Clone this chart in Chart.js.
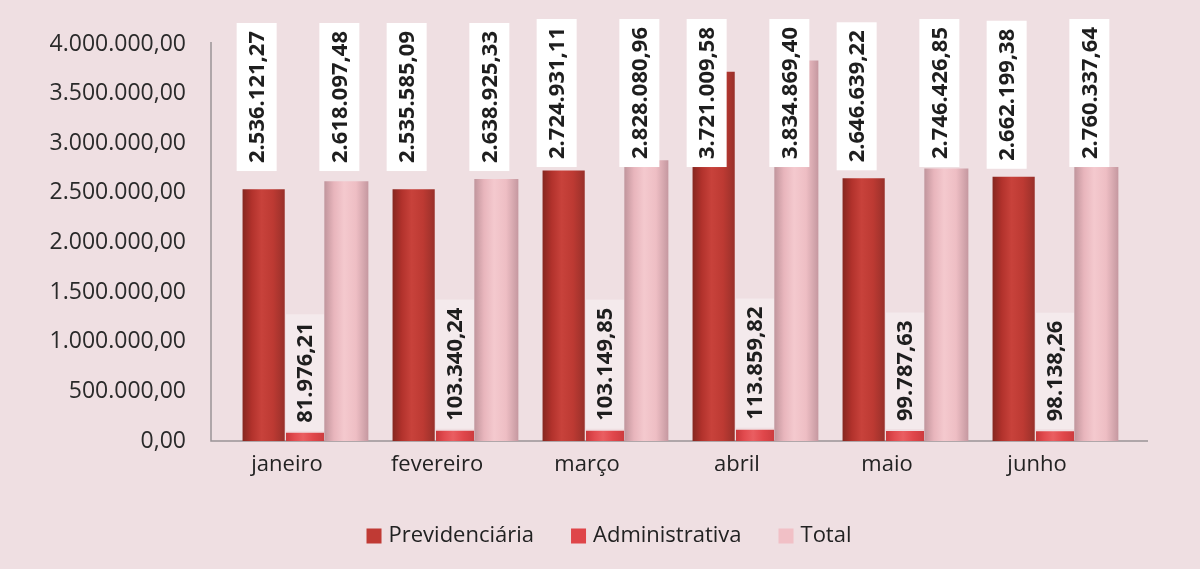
<!DOCTYPE html>
<html><head><meta charset="utf-8">
<script src="https://cdn.jsdelivr.net/npm/chart.js@4.4.1/dist/chart.umd.min.js"></script>
<style>
html,body{margin:0;padding:0;background:#ffffff;overflow:hidden;}
#wrap{position:absolute;left:0;top:0;width:1200px;height:569px;background:#efdfe2;}
canvas{display:block;}
</style></head><body>
<div id="wrap"><canvas id="c" width="1200" height="569"></canvas></div>
<script>
const categories = ['janeiro', 'fevereiro', 'março', 'abril', 'maio', 'junho'];
const seriesNames = ['Previdenciária', 'Administrativa', 'Total'];
const previdenciaria = [2536121.27, 2535585.09, 2724931.11, 3721009.58, 2646639.22, 2662199.38];
const administrativa = [81976.21, 103340.24, 103149.85, 113859.82, 99787.63, 98138.26];
const total = [2618097.48, 2638925.33, 2828080.96, 3834869.40, 2746426.85, 2760337.64];
const yMin = 0, yMax = 4000000, yStep = 500000;

const FONT = '"Open Sans", "DejaVu Sans", sans-serif';
const DEPTH = 18;          // 3D look: bars drawn shifted right of the category
const CAT_PCT = 0.827;
const BAR_PCTS = [1.02, 0.92, 1.065];

function fmtBR(v) {
  const neg = v < 0; v = Math.abs(v);
  const fixed = v.toFixed(2);
  let [ip, dp] = fixed.split('.');
  ip = ip.replace(/\B(?=(\d{3})+(?!\d))/g, '.');
  return (neg ? '-' : '') + ip + ',' + dp;
}

const palettes = [
  {flat: '#c03a34', stops: ['#86261f', '#b2322c', '#c8423b', '#bd3a33', '#98302a']},
  {flat: '#df4549', stops: ['#c9383b', '#e24b4f', '#ea5e61', '#e0474b', '#cc3c3f']},
  {flat: '#f1c0c6', stops: ['#c0959c', '#e8b5bc', '#f4c9ce', '#eebec4', '#c598a0']}
];

function barColor(ctx) {
  const p = palettes[ctx.datasetIndex];
  if (ctx.type !== 'data') return p.flat;
  const chart = ctx.chart;
  const xs = chart.scales.x;
  if (!chart.chartArea || !xs) return p.flat;
  const c = xs.getPixelForValue(ctx.dataIndex);
  const catW = xs.width / categories.length;
  const gw = catW * CAT_PCT, sw = gw / 3;
  const sc = c - gw / 2 + (ctx.datasetIndex + 0.5) * sw;
  const bw = sw * BAR_PCTS[ctx.datasetIndex];
  const left = sc - bw / 2;
  const g = chart.ctx.createLinearGradient(left, 0, left + bw, 0);
  const pos = [0, 0.22, 0.45, 0.72, 1];
  p.stops.forEach((s, i) => g.addColorStop(pos[i], s));
  return g;
}

const shiftPlugin = {
  id: 'shift',
  beforeDatasetsDraw(chart) {
    const ctx = chart.ctx; ctx.save(); ctx.translate(DEPTH, 0);
  },
  afterDatasetsDraw(chart) { chart.ctx.restore(); }
};

const axisPlugin = {
  id: 'axisLines',
  beforeDatasetsDraw(chart) {
    const {ctx, chartArea: a} = chart;
    ctx.save();
    ctx.strokeStyle = '#9a9497';
    ctx.lineWidth = 1.5;
    ctx.beginPath();
    ctx.moveTo(a.left - 1, a.top - 2);
    ctx.lineTo(a.left - 1, a.bottom);
    ctx.lineTo(a.right + DEPTH * 2, a.bottom);
    ctx.stroke();
    ctx.restore();
  }
};

const labelPlugin = {
  id: 'vlabels',
  afterDatasetsDraw(chart) {
    const ctx = chart.ctx, a = chart.chartArea;
    ctx.save();
    ctx.font = 'bold 22px ' + FONT;
    chart.data.datasets.forEach((ds, di) => {
      const meta = chart.getDatasetMeta(di);
      meta.data.forEach((bar, i) => {
        const txt = fmtBR(ds.data[i]);
        const w = ctx.measureText(txt).width;
        const L = w + 16;
        let cx, bw, top;
        if (di === 1) {
          cx = bar.x + DEPTH; bw = bar.width;
          top = bar.y - 2 - L;
          ctx.fillStyle = 'rgba(255,255,255,0.35)';
        } else {
          cx = bar.x + DEPTH - 7; bw = 40;
          top = Math.min(Math.max(bar.y - 8 - L, a.top - 25), a.top - 21);
          ctx.fillStyle = '#ffffff';
        }
        ctx.fillRect(cx - bw / 2, top, bw, L);
        ctx.save();
        ctx.translate(cx + 1, top + L / 2);
        ctx.rotate(-Math.PI / 2);
        ctx.fillStyle = '#1e1e1e';
        ctx.textAlign = 'center';
        ctx.textBaseline = 'middle';
        ctx.fillText(txt, 0, 0);
        ctx.restore();
      });
    });
    ctx.restore();
  }
};

const legendPlugin = {
  id: 'customLegend',
  afterDraw(chart) {
    const ctx = chart.ctx;
    ctx.save();
    ctx.font = '22px ' + FONT;
    const box = 15, gap = 7, spacing = 37;
    const widths = seriesNames.map(n => ctx.measureText(n).width);
    const totalW = widths.reduce((s, w) => s + box + gap + w, 0) + spacing * (seriesNames.length - 1);
    let x = chart.width / 2 + 9 - totalW / 2;
    const cy = 536;
    seriesNames.forEach((n, i) => {
      ctx.fillStyle = palettes[i].flat;
      ctx.fillRect(x, cy - box / 2, box, box);
      x += box + gap;
      ctx.fillStyle = '#222';
      ctx.textAlign = 'left';
      ctx.textBaseline = 'middle';
      ctx.fillText(n, x, cy);
      x += widths[i] + spacing;
    });
    ctx.restore();
  }
};

const seriesData = [previdenciaria, administrativa, total];

new Chart(document.getElementById('c'), {
  type: 'bar',
  data: {
    labels: categories,
    datasets: seriesData.map((d, i) => ({
      label: seriesNames[i],
      data: d,
      backgroundColor: barColor,
      borderWidth: 0,
      categoryPercentage: CAT_PCT,
      barPercentage: BAR_PCTS[i]
    }))
  },
  options: {
    responsive: false,
    animation: false,
    events: [],
    layout: {padding: {top: 44, right: 88, left: 0, bottom: 58}},
    scales: {
      x: {
        grid: {display: false, drawTicks: false},
        border: {display: false},
        ticks: {font: {family: FONT, size: 22}, color: '#222', padding: 11},
        afterFit(s) { s.height = 70; }
      },
      y: {
        min: yMin, max: yMax,
        grid: {display: false, drawTicks: false},
        border: {display: false},
        ticks: {stepSize: yStep, font: {family: FONT, size: 23}, color: '#2a2a2a', padding: 26,
          callback: v => fmtBR(v)},
        afterFit(s) { s.width = 212; }
      }
    },
    plugins: {
      legend: {display: false},
      tooltip: {enabled: false}
    }
  },
  plugins: [axisPlugin, shiftPlugin, labelPlugin, legendPlugin]
});
</script>
</body></html>
